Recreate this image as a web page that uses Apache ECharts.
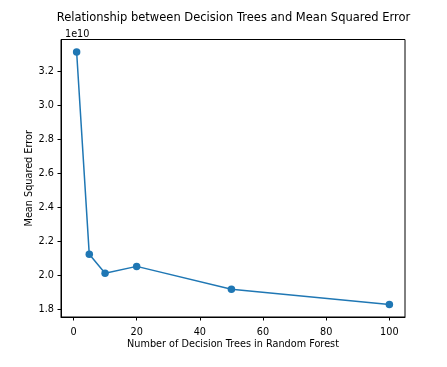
<!DOCTYPE html>
<html><head><meta charset="utf-8">
<script src="https://cdn.jsdelivr.net/npm/echarts@6/dist/echarts.min.js"></script>
<style>html,body{margin:0;padding:0;background:#fff}#c{width:447px;height:367px}</style>
</head><body><div id="c"></div>
<script>
const numTrees = [1, 5, 10, 20, 50, 100];
const mseValues = [3.315e10, 2.124e10, 2.012e10, 2.053e10, 1.918e10, 1.829e10];
const yTicks = [1.8e10, 2.0e10, 2.2e10, 2.4e10, 2.6e10, 2.8e10, 3.0e10, 3.2e10];
const xTicks = [0, 20, 40, 60, 80, 100];
const titleText = 'Relationship between Decision Trees and Mean Squared Error';
const xName = 'Number of Decision Trees in Random Forest';
const yName = 'Mean Squared Error';
const font = 'DejaVu Sans';

const chart = echarts.init(document.getElementById('c'), null, {renderer: 'canvas'});
chart.setOption({
  animation: false,
  backgroundColor: '#fff',
  textStyle: {fontFamily: font},
  title: [
    {text: titleText, left: 228.5, top: 7.5, textAlign: 'center',
     textStyle: {fontFamily: font, fontSize: 11.5, fontWeight: 'normal', color: '#000'}},
    {text: '1e10', left: 60, top: 24,
     textStyle: {fontFamily: font, fontSize: 9.7, fontWeight: 'normal', color: '#000'}}
  ],
  grid: {left: 61, right: 42, top: 39.5, bottom: 50, show: true, borderColor: '#000', borderWidth: 1, backgroundColor: 'transparent'},
  xAxis: {
    type: 'value', min: -3.95, max: 104.95,
    name: xName, nameLocation: 'middle', nameGap: 22, nameMoveOverlap: false,
    nameTextStyle: {fontFamily: font, fontSize: 9.7, color: '#000'},
    axisLine: {show: true, onZero: false, lineStyle: {color: '#000', width: 1}},
    axisTick: {show: true, inside: false, length: 3.5, lineStyle: {color: '#000'}, customValues: xTicks},
    axisLabel: {fontFamily: font, fontSize: 9.7, color: '#000', margin: 10, customValues: xTicks, formatter: v => String(v)},
    splitLine: {show: false}
  },
  yAxis: {
    type: 'value', min: 1.755e10, max: 3.389e10,
    name: yName, nameLocation: 'middle', nameGap: 27, nameRotate: 90, nameMoveOverlap: false,
    nameTextStyle: {fontFamily: font, fontSize: 9.7, color: '#000'},
    axisLine: {show: true, onZero: false, lineStyle: {color: '#000', width: 1}},
    axisTick: {show: true, inside: false, length: 3.5, lineStyle: {color: '#000'}, customValues: yTicks},
    axisLabel: {fontFamily: font, fontSize: 9.7, color: '#000', margin: 7, customValues: yTicks, formatter: v => (v / 1e10).toFixed(1)},
    splitLine: {show: false}
  },
  series: [{
    type: 'line',
    data: numTrees.map((x, i) => [x, mseValues[i]]),
    symbol: 'circle', symbolSize: 7.5,
    itemStyle: {color: '#1f77b4'},
    lineStyle: {color: '#1f77b4', width: 1.5},
    clip: false
  }]
});
</script>
</body></html>
